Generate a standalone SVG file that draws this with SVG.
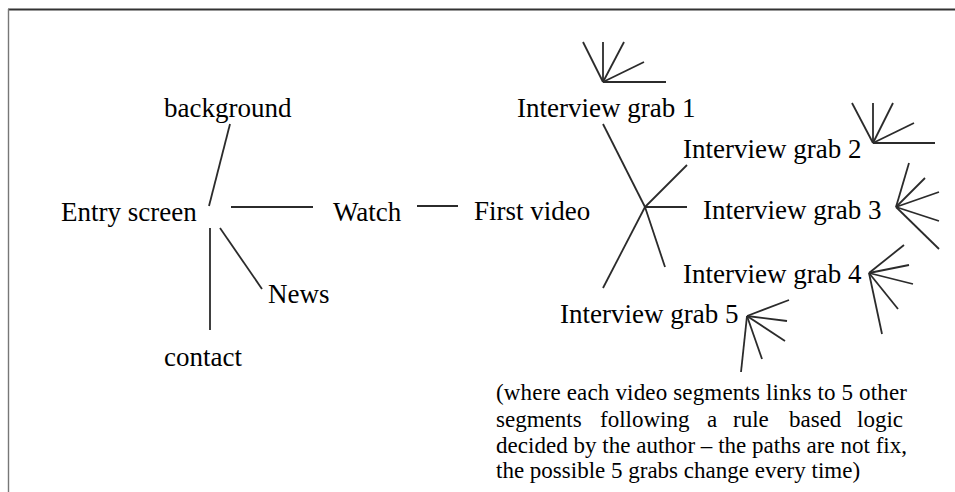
<svg xmlns="http://www.w3.org/2000/svg" width="955" height="492" viewBox="0 0 955 492">
  <style>
    .lbl { font-family: "Liberation Serif", "Times New Roman", serif; font-size: 27px; fill: #000; }
    .note { font-family: "Liberation Serif", "Times New Roman", serif; font-size: 23px; fill: #000; }
    .edge { stroke: #2b2b2b; stroke-width: 1.8; fill: none; stroke-linecap: butt; }
    .frame { fill: none; }
  </style>
  <rect width="955" height="492" fill="#ffffff"/>

  <!-- page frame -->
  <g id="frame" class="frame">
    <line x1="8" y1="9.5" x2="955" y2="9.5" stroke="#333" stroke-width="1.8"/>
    <line x1="8.5" y1="9" x2="8.5" y2="492" stroke="#777" stroke-width="1.4"/>
  </g>

  <!-- connectors -->
  <g id="connectors" class="edge">
    <!-- entry screen hub -->
    <line x1="230" y1="124" x2="209" y2="206"/>
    <line x1="231" y1="207" x2="313" y2="207"/>
    <line x1="220" y1="228" x2="262" y2="289"/>
    <line x1="210" y1="228" x2="210" y2="330"/>
    <!-- watch to first video -->
    <line x1="417" y1="206" x2="458" y2="206"/>
    <!-- first video hub -->
    <line x1="603" y1="124" x2="645" y2="207"/>
    <line x1="645" y1="207" x2="687" y2="165"/>
    <line x1="645" y1="207" x2="687" y2="207"/>
    <line x1="645" y1="207" x2="665" y2="267"/>
    <line x1="645" y1="207" x2="603" y2="288"/>
    <!-- fan: grab 1 -->
    <g id="fan1">
      <line x1="603" y1="82" x2="583" y2="42"/>
      <line x1="603" y1="82" x2="603" y2="42"/>
      <line x1="603" y1="82" x2="624" y2="42"/>
      <line x1="603" y1="82" x2="644" y2="62"/>
      <line x1="603" y1="82" x2="666" y2="82"/>
    </g>
    <!-- fan: grab 2 -->
    <g id="fan2">
      <line x1="873" y1="143" x2="852" y2="103"/>
      <line x1="873" y1="143" x2="873" y2="103"/>
      <line x1="873" y1="143" x2="893" y2="103"/>
      <line x1="873" y1="143" x2="914" y2="123"/>
      <line x1="873" y1="143" x2="935" y2="143"/>
    </g>
    <!-- fan: grab 3 -->
    <g id="fan3">
      <line x1="896" y1="207" x2="909" y2="163"/>
      <line x1="896" y1="207" x2="925" y2="178"/>
      <line x1="896" y1="207" x2="939" y2="192"/>
      <line x1="896" y1="207" x2="939" y2="221"/>
      <line x1="896" y1="207" x2="939" y2="249"/>
    </g>
    <!-- fan: grab 4 -->
    <g id="fan4">
      <line x1="869" y1="273" x2="904" y2="245"/>
      <line x1="869" y1="273" x2="909" y2="265"/>
      <line x1="869" y1="273" x2="913" y2="284"/>
      <line x1="869" y1="273" x2="898" y2="309"/>
      <line x1="869" y1="273" x2="882" y2="334"/>
    </g>
    <!-- fan: grab 5 -->
    <g id="fan5">
      <line x1="747" y1="316" x2="789" y2="300"/>
      <line x1="747" y1="316" x2="787" y2="321"/>
      <line x1="747" y1="316" x2="785" y2="341"/>
      <line x1="747" y1="316" x2="762" y2="359"/>
      <line x1="747" y1="316" x2="741" y2="372"/>
    </g>
  </g>

  <!-- nodes -->
  <g id="node-background"><text class="lbl" x="164" y="117">background</text></g>
  <g id="node-entry"><text class="lbl" x="61" y="221">Entry screen</text></g>
  <g id="node-news"><text class="lbl" x="268" y="303">News</text></g>
  <g id="node-contact"><text class="lbl" x="164" y="366">contact</text></g>
  <g id="node-watch"><text class="lbl" x="333" y="221">Watch</text></g>
  <g id="node-first"><text class="lbl" x="474" y="220">First video</text></g>
  <g id="node-grab1"><text class="lbl" x="517" y="117">Interview grab 1</text></g>
  <g id="node-grab2"><text class="lbl" x="683" y="158">Interview grab 2</text></g>
  <g id="node-grab3"><text class="lbl" x="703" y="219">Interview grab 3</text></g>
  <g id="node-grab4"><text class="lbl" x="683" y="283">Interview grab 4</text></g>
  <g id="node-grab5"><text class="lbl" x="560" y="323">Interview grab 5</text></g>

  <!-- explanatory note, justified -->
  <g id="note">
    <text class="note" x="496" y="400" textLength="411" lengthAdjust="spacing">(where each video segments links to 5 other</text>
    <text class="note" y="427">
      <tspan x="496">segments</tspan>
      <tspan x="600">following</tspan>
      <tspan x="707">a</tspan>
      <tspan x="733">rule</tspan>
      <tspan x="789">based</tspan>
      <tspan x="857">logic</tspan>
    </text>
    <text class="note" x="496" y="453" textLength="411" lengthAdjust="spacing">decided by the author – the paths are not fix,</text>
    <text class="note" x="496" y="478">the possible 5 grabs change every time)</text>
  </g>
</svg>
